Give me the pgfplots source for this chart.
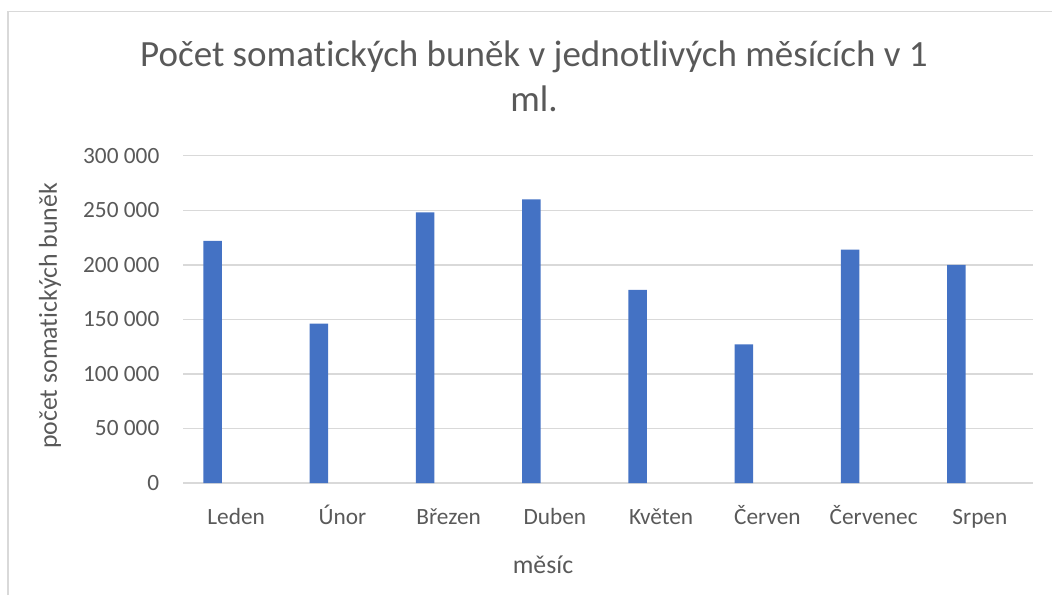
\documentclass[border=0pt]{standalone}
\usepackage{fontspec}
\setmainfont{Carlito}[Ligatures={NoCommon}]
\usepackage{pgfplots}
\pgfplotsset{compat=1.18}
\definecolor{barblue}{HTML}{4472C4}
\definecolor{txt}{HTML}{595959}
\definecolor{grd}{HTML}{D9D9D9}
\begin{document}
\begin{tikzpicture}[x=1pt,y=1pt]
\useasboundingbox (0,0) rectangle (1052,595);
\draw[grd, line width=1.5pt] (8,0) -- (8,583.5) -- (1052,583.5);
\begin{axis}[
  at={(183pt,112pt)}, anchor=south west,
  scale only axis, width=850pt, height=327.3pt,
  xmin=-0.5, xmax=7.5, ymin=0, ymax=300000,
  scaled y ticks=false,
  axis line style={draw=none},
  major tick length=0pt,
  ymajorgrids, grid style={grd, line width=1.5pt},
  ytick={0,50000,100000,150000,200000,250000,300000},
  yticklabels={0,50 000,100 000,150 000,200 000,250 000,300 000},
  xtick={0,1,2,3,4,5,6,7},
  xticklabels={Leden,Únor,Březen,Duben,Květen,Červen,Červenec,Srpen},
  tick label style={font=\fontsize{23.3}{28}\selectfont, text=txt, inner sep=0pt},
  xticklabel style={anchor=base, yshift=-41pt},
  yticklabel style={anchor=east, xshift=-23.5pt},
  ybar, bar width=0.174, bar shift=-0.221,
  clip=false,
]
\addplot[fill=barblue, draw=none] coordinates {
  (0,222000) (1,146000) (2,248000) (3,260000)
  (4,177000) (5,127000) (6,214000) (7,200000)
};
\end{axis}
\node[text=txt, font=\fontsize{37}{44}\selectfont, anchor=base] at (534,528) {Počet somatických buněk v jednotlivých měsících v 1};
\node[text=txt, font=\fontsize{37}{44}\selectfont, anchor=base] at (534,483) {ml.};
\node[text=txt, font=\fontsize{25.8}{30}\selectfont, rotate=90] at (50,279) {počet somatických buněk};
\node[text=txt, font=\fontsize{25.8}{30}\selectfont] at (543,30) {měsíc};
\end{tikzpicture}
\end{document}
